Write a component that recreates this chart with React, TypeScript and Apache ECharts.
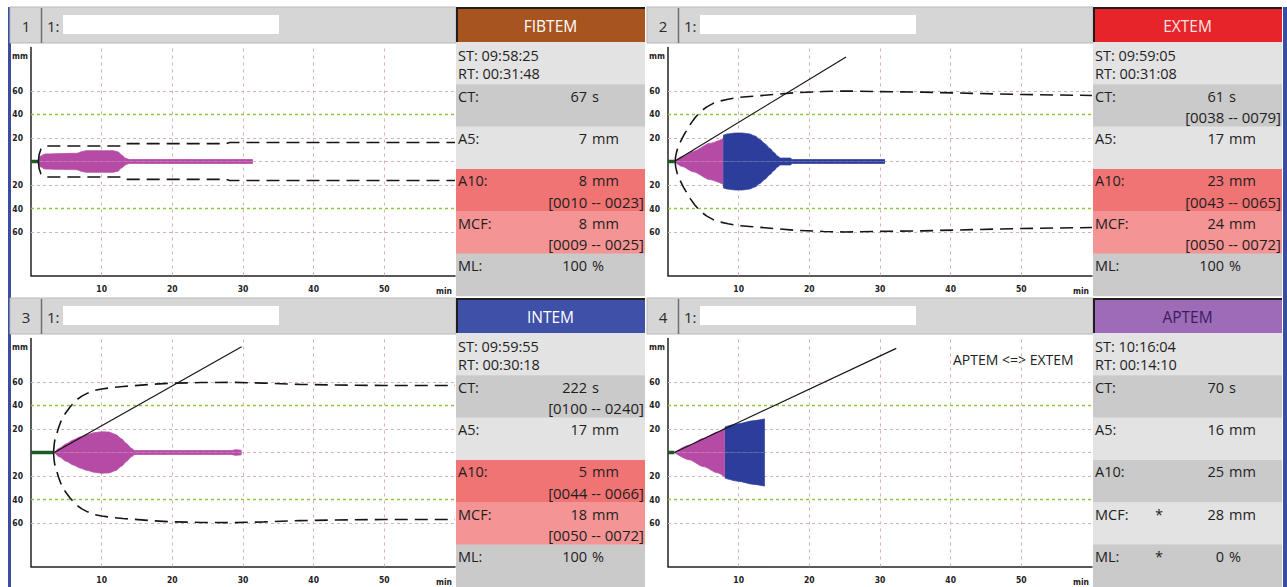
import React, { useEffect, useRef } from 'react';
import * as echarts from 'echarts';

// ---------------- data ----------------
const panelNumbers = ['1', '2', '3', '4'];
const testNames = ['FIBTEM', 'EXTEM', 'INTEM', 'APTEM'];
const stTimes = ['09:58:25', '09:59:05', '09:59:55', '10:16:04'];
const rtTimes = ['00:31:48', '00:31:08', '00:30:18', '00:14:10'];
const ctValues = ['67', '61', '222', '70'];
const ctRanges = ['', '[0038 -- 0079]', '[0100 -- 0240]', ''];
const a5Values = ['7', '17', '17', '16'];
const a10Values = ['8', '23', '5', '25'];
const a10Ranges = ['[0010 -- 0023]', '[0043 -- 0065]', '[0044 -- 0066]', ''];
const mcfValues = ['8', '24', '18', '28'];
const mcfRanges = ['[0009 -- 0025]', '[0050 -- 0072]', '[0050 -- 0072]', ''];
const mlValues = ['100', '100', '100', '0'];
const starredRows = [false, false, false, true];
const compareNote = 'APTEM <=> EXTEM';

const xTicks = [10, 20, 30, 40, 50];
const yGridLines = [60, 40, 20, 0, -20, -40, -60];
const yLabelValues = [20, 40, 60];

// FIBTEM trace (time min, amplitude mm)
const fibtemT = [1.1, 1.3, 2.0, 4.0, 6.5, 7.2, 7.8, 11.6, 12.3, 12.9, 13.4, 13.9, 31.4];
const fibtemA = [0, 4.5, 6.4, 6.7, 7.0, 8.4, 9.2, 9.2, 8.2, 5.2, 2.7, 1.7, 1.7];
const fibtemRefT = [1.05, 1.15, 1.4, 1.9, 2.4, 12.8, 13.3, 27.6, 28.1, 60];
const fibtemRefA = [0, 6, 10.5, 12.6, 13.2, 13.2, 15.2, 15.2, 16.2, 16.2];
const fibtemBaseEnd = 1.1;

// EXTEM
const extemClotT = [0.9, 2.0, 3.6, 5.9, 7.8];
const extemClotA = [0, 4.2, 8.8, 15.4, 19.4];
const extemFirmT = [7.8, 8.5, 9.5, 10.5, 11.5, 12.3, 13.0, 13.7, 14.4, 15.0, 15.5, 15.9, 16.2, 17.3, 17.6, 30.7];
const extemFirmA = [22.3, 23.5, 24.2, 24.2, 23.5, 21.7, 18.7, 15.2, 11.2, 7.6, 4.6, 2.9, 2.9, 2.9, 1.6, 1.6];
const extemRefT = [1.0, 1.1, 1.3, 1.7, 2.2, 2.6, 3.2, 3.8, 4.6, 5.5, 6.4, 7.4, 8.5, 10, 12, 15, 18, 22, 25, 29, 36, 43, 50, 60];
const extemRefA = [0, 5, 10, 16, 22, 26, 32, 37, 42.5, 46.5, 49.5, 51.5, 53, 54.5, 55.5, 57, 58.5, 59.5, 60, 59.5, 59, 58, 57, 56.2];
const extemAlphaT = [0.9, 25.2];
const extemAlphaA = [0, 89];
const extemBaseEnd = 0.9;

// INTEM
const intemT = [3.3, 4.0, 5.0, 6.0, 7.0, 8.0, 9.0, 10.0, 11.0, 12.0, 12.8, 13.5, 14.2, 14.7, 28.4, 28.9, 29.8];
const intemA = [0, 3.6, 7.5, 10.7, 13.3, 15.3, 16.9, 17.6, 17.4, 15.3, 11.7, 7.6, 3.6, 1.6, 1.6, 2.4, 1.9];
const intemRefT = [3.2, 3.25, 3.35, 3.6, 3.9, 4.2, 4.6, 5.0, 5.5, 6.0, 6.5, 7.2, 8.0, 9.0, 10, 11.5, 13, 14.4, 17, 20, 24, 28.6, 33, 38, 43, 50, 60];
const intemRefA = [0, 5, 10, 15, 21, 26, 31, 34.5, 38.5, 42, 45, 48, 50.5, 52.8, 54, 55.3, 56.2, 56.8, 58, 59, 59.5, 59.7, 59, 58, 57.4, 57, 57];
const intemAlphaT = [3.3, 29.8];
const intemAlphaA = [0, 90];
const intemBaseEnd = 3.2;

// APTEM
const aptemClotT = [0.9, 3.0, 5.0, 7.0, 8.05];
const aptemClotA = [0, 6.2, 12.0, 17.3, 20.8];
const aptemFirmT = [8.05, 10.0, 12.0, 13.7];
const aptemFirmA = [21.8, 24.5, 27.0, 28.6];
const aptemAlphaT = [0.9, 32.3];
const aptemAlphaA = [0, 88.6];
const aptemBaseEnd = 0.9;

// ---------------- layout / style ----------------
const QUADS: number[][] = [[10, 7], [647, 7], [10, 298], [647, 298]];
const MAGENTA = '#B64BA6';
const BLUE = '#2C3D9C';
const headerColors = ['#A8541F', '#E6242A', '#3F50A8', '#9D6BB7'];
const headerTextColors = ['#FFFFFF', '#FBE3E3', '#FFFFFF', '#3A1E5C'];
const LIGHT = '#E3E3E3';
const DARK = '#CACACA';
const RED = '#F07474';
const PINK = '#F59494';
const rowColors = [
  [LIGHT, DARK, LIGHT, RED, PINK, DARK],
  [LIGHT, DARK, LIGHT, RED, PINK, DARK],
  [LIGHT, DARK, LIGHT, RED, PINK, DARK],
  [LIGHT, DARK, LIGHT, DARK, LIGHT, DARK],
];
const FONT = '"Open Sans", "Noto Sans", sans-serif';
const AXFONT = '"DejaVu Sans Condensed", "DejaVu Sans", sans-serif';

const pairs = (t: number[], a: number[], s: number) => t.map((x, i) => [x, s * a[i]]);

function areaSeries(gi: number, t: number[], a: number[], color: string, z = 10) {
  return [1, -1].map((s) => ({
    type: 'line',
    xAxisIndex: gi,
    yAxisIndex: gi,
    data: pairs(t, a, s),
    symbol: 'none',
    smooth: 0.25,
    smoothMonotone: 'x',
    silent: true,
    z,
    lineStyle: { width: 0.8, color },
    areaStyle: { color, opacity: 1 },
  }));
}

function dashedSeries(gi: number, t: number[], a: number[]) {
  return [1, -1].map((s) => ({
    type: 'line',
    xAxisIndex: gi,
    yAxisIndex: gi,
    data: pairs(t, a, s),
    symbol: 'none',
    smooth: false,
    silent: true,
    z: 12,
    lineStyle: { width: 1.6, color: '#151515', type: [13, 7] },
  }));
}

function lineSeries(gi: number, t: number[], a: number[], color: string, width: number, z = 13) {
  return {
    type: 'line',
    xAxisIndex: gi,
    yAxisIndex: gi,
    data: pairs(t, a, 1),
    symbol: 'none',
    silent: true,
    z,
    lineStyle: { width, color },
  };
}

function gridLineSeries(gi: number) {
  return {
    type: 'line',
    xAxisIndex: gi,
    yAxisIndex: gi,
    data: [[0, 0]],
    symbol: 'none',
    silent: true,
    z: 1,
    lineStyle: { opacity: 0 },
    markLine: {
      silent: true,
      z: 1,
      symbol: ['none', 'none'],
      label: { show: false },
      animation: false,
      data: [
        ...yGridLines.map((v) => ({
          yAxis: v,
          lineStyle: {
            color: Math.abs(v) === 40 ? '#8DC63F' : '#D3B3B3',
            type: [3, 3],
            width: Math.abs(v) === 40 ? 1.4 : 1,
          },
        })),
        ...xTicks.map((v) => ({
          xAxis: v,
          lineStyle: { color: '#DDAEAE', type: [3, 4], width: 1 },
        })),
      ],
    },
  };
}

function buildGraphics() {
  const els: any[] = [];
  els.push({ type: 'rect', shape: { x: 8, y: 7, width: 3, height: 580 }, style: { fill: '#3B4DA0' } });
  els.push({ type: 'rect', shape: { x: 1283, y: 7, width: 4, height: 580 }, style: { fill: '#3B4DA0' } });
  QUADS.forEach(([qx, qy], i) => {
    // header bar
    els.push({ type: 'rect', shape: { x: qx, y: qy, width: 446, height: 36 }, style: { fill: '#D6D6D6', stroke: '#B8B8B8', lineWidth: 1 } });
    els.push({ type: 'line', shape: { x1: qx + 31.5, y1: qy + 1, x2: qx + 31.5, y2: qy + 36 }, style: { stroke: '#707070', lineWidth: 1.5 } });
    els.push({
      type: 'text', x: qx + 16, y: qy + 19,
      style: { text: panelNumbers[i], font: `15px ${FONT}`, fill: '#2A2A2A', textAlign: 'center', textVerticalAlign: 'middle', align: 'center', verticalAlign: 'middle' },
    });
    els.push({
      type: 'text', x: qx + 37, y: qy + 19,
      style: { text: '1:', font: `15px ${FONT}`, fill: '#2A2A2A', textAlign: 'left', textVerticalAlign: 'middle', align: 'left', verticalAlign: 'middle' },
    });
    els.push({ type: 'rect', shape: { x: qx + 53, y: qy + 8, width: 216, height: 19 }, style: { fill: '#FFFFFF' } });
    // axis unit labels
    els.push({
      type: 'text', x: qx + 2, y: qy + 49,
      style: { text: 'mm', font: `bold 8.5px ${AXFONT}`, fill: '#222', textAlign: 'left', textVerticalAlign: 'middle', align: 'left', verticalAlign: 'middle' },
    });
    els.push({
      type: 'text', x: qx + 442, y: qy + 284,
      style: { text: 'min', font: `bold 8.5px ${AXFONT}`, fill: '#222', textAlign: 'right', textVerticalAlign: 'middle', align: 'right', verticalAlign: 'middle' },
    });

    // info panel
    const ix = qx + 446;
    const iw = 189;
    els.push({ type: 'rect', shape: { x: ix, y: qy, width: iw, height: 35 }, style: { fill: headerColors[i] } });
    els.push({ type: 'line', shape: { x1: ix, y1: qy + 1, x2: ix + iw, y2: qy + 1 }, style: { stroke: '#1E1E1E', lineWidth: 2 } });
    els.push({ type: 'line', shape: { x1: ix + 1, y1: qy, x2: ix + 1, y2: qy + 35 }, style: { stroke: '#1E1E1E', lineWidth: 2 } });
    els.push({
      type: 'text', x: ix + iw / 2, y: qy + 18.5,
      style: { text: testNames[i], font: `15.5px ${FONT}`, fill: headerTextColors[i], textAlign: 'center', textVerticalAlign: 'middle', align: 'center', verticalAlign: 'middle' },
    });
    const rowH = 42.3;
    const rows = [
      { label: '', num: '', unit: '', range: '' },
      { label: 'CT:', num: ctValues[i], unit: 's', range: ctRanges[i] },
      { label: 'A5:', num: a5Values[i], unit: 'mm', range: '' },
      { label: 'A10:', num: a10Values[i], unit: 'mm', range: a10Ranges[i] },
      { label: 'MCF:', num: mcfValues[i], unit: 'mm', range: mcfRanges[i] },
      { label: 'ML:', num: mlValues[i], unit: '%', range: '' },
    ];
    const txt = (x: number, y: number, text: string, align: string, size = 14.5) => ({
      type: 'text', x, y,
      style: { text, font: `${size}px ${FONT}`, fill: '#1E1E1E', textAlign: align, textVerticalAlign: 'middle', align, verticalAlign: 'middle' },
    });
    rows.forEach((r, k) => {
      const ry = qy + 35 + k * rowH;
      els.push({ type: 'rect', shape: { x: ix, y: ry, width: iw, height: rowH + 0.5 }, style: { fill: rowColors[i][k] } });
      if (k === 0) {
        els.push(txt(ix + 2, ry + 13, `ST: ${stTimes[i]}`, 'left'));
        els.push(txt(ix + 2, ry + 31, `RT: ${rtTimes[i]}`, 'left'));
        return;
      }
      els.push(txt(ix + 2, ry + 12, r.label, 'left'));
      els.push(txt(ix + 131, ry + 12, r.num, 'right'));
      els.push(txt(ix + 136, ry + 12, r.unit, 'left'));
      if (r.range) els.push(txt(ix + iw - 1, ry + 33, r.range, 'right', 15));
      if (starredRows[i] && (k === 4 || k === 5)) els.push(txt(ix + 66, ry + 12, '*', 'center'));
    });
  });
  const [q4x, q4y] = QUADS[3];
  els.push({
    type: 'text', x: q4x + 306, y: q4y + 61,
    style: { text: compareNote, font: `14px ${FONT}`, fill: '#222', textAlign: 'left', textVerticalAlign: 'middle', align: 'left', verticalAlign: 'middle' },
  });
  return els;
}

function buildOption() {
  const grids = QUADS.map(([qx, qy]) => ({ left: qx + 21, top: qy + 40.5, width: 424, height: 228 }));
  const xAxes = QUADS.map((_, i) => ({
    type: 'value', gridIndex: i, min: 0, max: 60, interval: 10,
    axisLine: { show: true, onZero: false, lineStyle: { color: '#222', width: 1.5 } },
    axisTick: { show: false },
    splitLine: { show: false },
    axisLabel: {
      margin: 9, color: '#222', fontFamily: AXFONT, fontWeight: 'bold', fontSize: 8.5,
      formatter: (v: number) => (xTicks.includes(v) ? String(v) : ''),
    },
  }));
  const yAxes = QUADS.map((_, i) => ({
    type: 'value', gridIndex: i, min: -97, max: 97, splitNumber: 10,
    axisLine: { show: true, onZero: false, lineStyle: { color: '#222', width: 1.5 } },
    axisTick: { show: false },
    splitLine: { show: false },
    axisLabel: {
      margin: 8, color: '#222', fontFamily: AXFONT, fontWeight: 'bold', fontSize: 8.5,
      formatter: (v: number) => (yLabelValues.includes(Math.abs(v)) ? String(Math.abs(v)) : ''),
    },
  }));
  const baseline = (gi: number, end: number) => lineSeries(gi, [0, end], [0, 0], '#1F5A22', 3.5, 11);
  const series: any[] = [
    gridLineSeries(0),
    baseline(0, fibtemBaseEnd),
    ...areaSeries(0, fibtemT, fibtemA, MAGENTA),
    ...dashedSeries(0, fibtemRefT, fibtemRefA),
    gridLineSeries(1),
    baseline(1, extemBaseEnd),
    ...areaSeries(1, extemClotT, extemClotA, MAGENTA),
    ...areaSeries(1, extemFirmT, extemFirmA, BLUE),
    ...dashedSeries(1, extemRefT, extemRefA),
    lineSeries(1, extemAlphaT, extemAlphaA, '#151515', 1.2),
    gridLineSeries(2),
    baseline(2, intemBaseEnd),
    ...areaSeries(2, intemT, intemA, MAGENTA),
    ...dashedSeries(2, intemRefT, intemRefA),
    lineSeries(2, intemAlphaT, intemAlphaA, '#151515', 1.2),
    gridLineSeries(3),
    baseline(3, aptemBaseEnd),
    ...areaSeries(3, aptemClotT, aptemClotA, MAGENTA),
    ...areaSeries(3, aptemFirmT, aptemFirmA, BLUE),
    lineSeries(3, aptemAlphaT, aptemAlphaA, '#151515', 1.2),
  ];
  return {
    animation: false,
    backgroundColor: '#FFFFFF',
    grid: grids,
    xAxis: xAxes,
    yAxis: yAxes,
    series,
    graphic: { elements: buildGraphics() },
  };
}

export default function App() {
  const ref = useRef<HTMLDivElement>(null);
  useEffect(() => {
    if (!ref.current) return;
    const chart = echarts.init(ref.current, null, { renderer: 'svg' });
    chart.setOption(buildOption() as any);
    return () => chart.dispose();
  }, []);
  return <div ref={ref} style={{ position: 'absolute', left: 0, top: 0, width: 1287, height: 587 }} />;
}
